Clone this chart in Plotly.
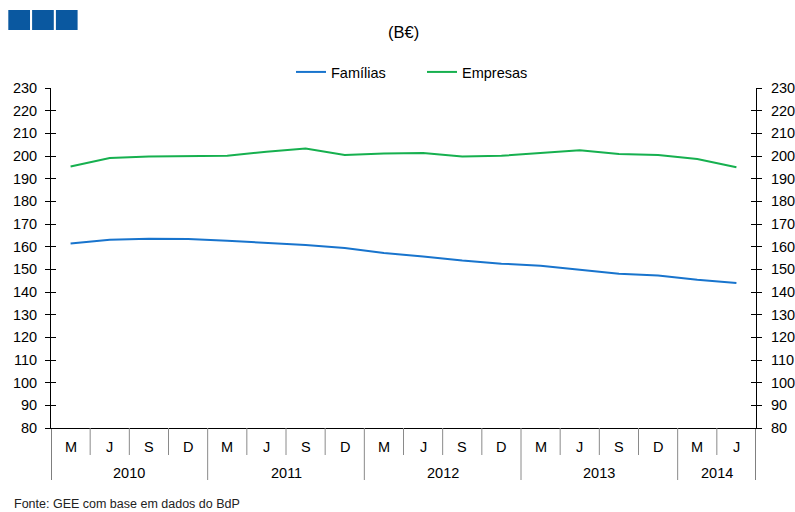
import plotly.graph_objects as go

# ---- data ----
months = ["M", "J", "S", "D", "M", "J", "S", "D", "M", "J", "S", "D",
          "M", "J", "S", "D", "M", "J"]
years = ["2010", "2011", "2012", "2013", "2014"]
year_counts = [4, 4, 4, 4, 2]
familias = [161.4, 163.1, 163.5, 163.4, 162.6, 161.7, 160.7, 159.4, 157.2,
            155.7, 153.9, 152.5, 151.6, 149.8, 148.1, 147.3, 145.4, 144.0]
empresas = [195.4, 199.1, 199.8, 199.8, 200.1, 201.9, 203.3, 200.4, 201.1,
            201.3, 199.8, 200.1, 201.3, 202.5, 200.9, 200.4, 198.7, 195.0]
y_ticks = list(range(80, 231, 10))

# ---- styles ----
FONT = "Liberation Sans, Arial, sans-serif"
BLUE = "#1874CD"
GREEN = "#16B04F"
W, H = 795, 512
L, R, T, B = 51, 39, 88, 84
PH = H - T - B  # plot height in px
PW = W - L - R

x = list(range(len(months)))

fig = go.Figure()
fig.add_trace(go.Scatter(x=x, y=familias, mode="lines", name="Famílias",
                         line=dict(color=BLUE, width=2)))
fig.add_trace(go.Scatter(x=x, y=empresas, mode="lines", name="Empresas",
                         line=dict(color=GREEN, width=2)))
# helper traces so the extra axes are drawn
for ax in ["y2", "y3", "y4"]:
    fig.add_trace(go.Scatter(x=[None], y=[None], yaxis=ax, showlegend=False,
                             hoverinfo="skip"))

yrange = [y_ticks[0], y_ticks[-1]]
common = dict(range=yrange, tickvals=y_ticks, showgrid=False, zeroline=False,
              tickcolor="black", ticklen=5, tickwidth=1, automargin=False,
              tickfont=dict(family=FONT, size=14.5, color="black"))

fig.update_layout(
    width=W, height=H,
    margin=dict(l=L, r=R, t=T, b=B, pad=0, autoexpand=False),
    paper_bgcolor="white", plot_bgcolor="white",
    font=dict(family=FONT, color="black"),
    xaxis=dict(range=[-0.5, len(months) - 0.5], showticklabels=False,
               ticks="", showgrid=False, zeroline=False, showline=True,
               linecolor="black", linewidth=1, automargin=False),
    yaxis=dict(side="left", ticks="outside", showline=True, linecolor="black",
               linewidth=1, ticklabelstandoff=5, **common),
    yaxis2=dict(side="right", overlaying="y", ticks="outside", showline=True,
                linecolor="black", linewidth=1, ticklabelstandoff=6, **common),
    yaxis3=dict(side="left", overlaying="y", ticks="inside",
                showticklabels=False, showline=False, **common),
    yaxis4=dict(side="right", overlaying="y", ticks="inside",
                showticklabels=False, showline=False, **common),
    legend=dict(orientation="h", x=(296 - 5 - L) / PW, xanchor="left",
                y=(PH + T - 72) / PH, yanchor="middle",
                font=dict(family=FONT, size=14.5, color="black"),
                itemwidth=30, entrywidth=86, entrywidthmode="pixels",
                bgcolor="rgba(0,0,0,0)"),
    showlegend=True,
)

shapes = []
annotations = []

# category separators and labels
month_y1 = -27 / PH
year_y1 = -52 / PH
boundaries = [-0.5]
acc = -0.5
for c in year_counts:
    acc += c
    boundaries.append(acc)
for i in range(len(months) + 1):
    xb = i - 0.5
    is_year = xb in boundaries
    outer = xb in (boundaries[0], boundaries[-1])
    shapes.append(dict(type="line", xref="x", yref="paper", x0=xb, x1=xb,
                       y0=0, y1=year_y1 if is_year else month_y1,
                       line=dict(color="black" if outer else "#8a8a8a", width=1)))
for i, m in enumerate(months):
    annotations.append(dict(x=i, y=-18.7 / PH, xref="x", yref="paper", text=m,
                            showarrow=False, yanchor="middle",
                            font=dict(family=FONT, size=14.5, color="black")))
for j, yr in enumerate(years):
    xc = (boundaries[j] + boundaries[j + 1]) / 2
    annotations.append(dict(x=xc, y=-44.7 / PH, xref="x", yref="paper", text=yr,
                            showarrow=False, yanchor="middle",
                            font=dict(family=FONT, size=14.5, color="black")))

# unit title
annotations.append(dict(x=0.5, y=(PH + T - 32) / PH, xref="paper", yref="paper",
                        text="(B€)", showarrow=False, yanchor="middle",
                        font=dict(family=FONT, size=16.5, color="black")))
# source note
annotations.append(dict(x=(12 - L) / PW, y=-(504 - T - PH) / PH,
                        xref="paper", yref="paper", xanchor="left",
                        yanchor="middle", text="Fonte: GEE com base em dados do BdP",
                        showarrow=False,
                        font=dict(family=FONT, size=12.5, color="#222222")))

# logo squares
for k in range(3):
    x0 = 8.3 + k * 23.8
    shapes.append(dict(type="rect", xref="paper", yref="paper",
                       x0=(x0 - L) / PW, x1=(x0 + 21.7 - L) / PW,
                       y0=(PH + T - 10) / PH, y1=(PH + T - 30) / PH,
                       fillcolor="#0A58A0", line=dict(width=0)))

fig.update_layout(shapes=shapes, annotations=annotations)
fig.write_html("out.html",
               config={"displayModeBar": False},
               post_script="document.body.style.margin='0';"
                           "document.body.style.overflow='hidden';")
